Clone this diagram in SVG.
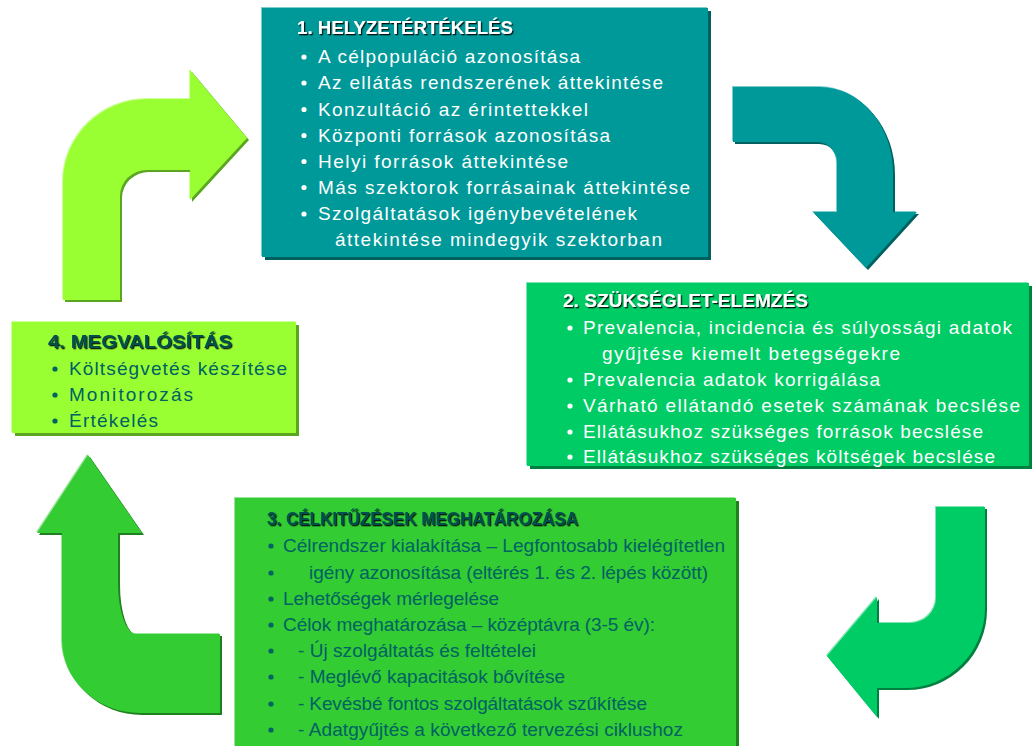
<svg xmlns="http://www.w3.org/2000/svg" xmlns:xlink="http://www.w3.org/1999/xlink" width="1036" height="746" viewBox="0 0 1036 746">
<style>
text{font-family:"Liberation Sans",Arial,sans-serif;font-size:19px}
.t{font-weight:bold;font-size:18px;filter:url(#ts)}
.w{fill:#ffffff}
.d{fill:#006262}
.dt{fill:#00504f}
.bw{fill:#ffffff}
.bd{fill:#006262}
</style>
<defs>
<filter id="ts" x="-5%" y="-30%" width="110%" height="160%">
<feDropShadow dx="1.3" dy="1.3" stdDeviation="0.3" flood-color="#000000" flood-opacity="0.85"/>
</filter>
<path id="a1" d="M63,300 L63,182 A85,83 0 0 1 148,99 L190,99 L190,70 L247,138 L190,200 L190,170 L147,170 A27,26 0 0 0 120,196 L120,300 Z"/>
<path id="a2" d="M733,87 L820,87 A73,86 0 0 1 893,173 L893,212 L917,212 L866,268 L813,212 L837,212 L837,163 A20,21 0 0 0 817,142 L733,142 Z"/>
<path id="a3" d="M936,507 L985,507 L985,608 A80,80 0 0 1 905,688 L877,688 L877,717 L827,656 L877,597 L877,623 L910,623 A26,25 0 0 0 936,598 Z"/>
<path id="a4" d="M62,533 L37,533 L88,455 L142,533 L118,533 L118,583 A18,51 0 0 0 136,634 L220,634 L220,713 L140,713 A78,73 0 0 1 62,640 Z"/>
</defs>
<rect width="1036" height="746" fill="#ffffff"/>

<g id="connectors">
<g id="arrow-4-to-1">
<use xlink:href="#a1" fill="#ccff99" transform="translate(-1,-1)"/>
<use xlink:href="#a1" fill="#5aa621" transform="translate(2,2)"/>
<use xlink:href="#a1" fill="#99ff33"/>
</g>
<g id="arrow-1-to-2">
<use xlink:href="#a2" fill="#7fcccc" transform="translate(-1,-1)"/>
<use xlink:href="#a2" fill="#005f5f" transform="translate(2,2)"/>
<use xlink:href="#a2" fill="#009999"/>
</g>
<g id="arrow-2-to-3">
<use xlink:href="#a3" fill="#7fe5b2" transform="translate(-1,-1)"/>
<use xlink:href="#a3" fill="#00803f" transform="translate(2,2)"/>
<use xlink:href="#a3" fill="#00cc66"/>
</g>
<g id="arrow-3-to-4">
<use xlink:href="#a4" fill="#99e599" transform="translate(-1,-1)"/>
<use xlink:href="#a4" fill="#1f801f" transform="translate(2,2)"/>
<use xlink:href="#a4" fill="#33cc33"/>
</g>
</g>

<g id="node1">
<rect x="261" y="7" width="446" height="249" fill="#7fcccc"/>
<rect x="265" y="11" width="446" height="249" fill="#005f5f"/>
<rect x="262" y="8" width="446" height="249" fill="#009999"/>
<text class="t w" x="297" y="34" textLength="216" lengthAdjust="spacingAndGlyphs">1. HELYZETÉRTÉKELÉS</text>
<g class="bw">
<circle cx="304" cy="57" r="2.6"/><circle cx="304" cy="83" r="2.6"/><circle cx="304" cy="109.5" r="2.6"/><circle cx="304" cy="135.5" r="2.6"/><circle cx="304" cy="161.5" r="2.6"/><circle cx="304" cy="187.5" r="2.6"/><circle cx="304" cy="214" r="2.6"/>
</g>
<text class="w" x="318" y="63" textLength="262">A célpopuláció azonosítása</text>
<text class="w" x="318" y="89" textLength="345">Az ellátás rendszerének áttekintése</text>
<text class="w" x="318" y="115.5" textLength="270">Konzultáció az érintettekkel</text>
<text class="w" x="318" y="141.5" textLength="292">Központi források azonosítása</text>
<text class="w" x="318" y="167.5" textLength="250">Helyi források áttekintése</text>
<text class="w" x="318" y="193.5" textLength="372">Más szektorok forrásainak áttekintése</text>
<text class="w" x="318" y="220" textLength="319">Szolgáltatások igénybevételének</text>
<text class="w" x="335" y="246" textLength="327">áttekintése mindegyik szektorban</text>
</g>

<g id="node2">
<rect x="526" y="282" width="502" height="183" fill="#7fe5b2"/>
<rect x="530" y="286" width="502" height="183" fill="#00803f"/>
<rect x="527" y="283" width="502" height="183" fill="#00cc66"/>
<text class="t w" x="563" y="307" textLength="245" lengthAdjust="spacingAndGlyphs">2. SZÜKSÉGLET-ELEMZÉS</text>
<g class="bw">
<circle cx="570" cy="328" r="2.6"/><circle cx="570" cy="380" r="2.6"/><circle cx="570" cy="406" r="2.6"/><circle cx="570" cy="432" r="2.6"/><circle cx="570" cy="457" r="2.6"/>
</g>
<text class="w" x="583" y="334" textLength="429">Prevalencia, incidencia és súlyossági adatok</text>
<text class="w" x="602" y="360" textLength="298">gyűjtése kiemelt betegségekre</text>
<text class="w" x="583" y="386" textLength="297">Prevalencia adatok korrigálása</text>
<text class="w" x="583" y="412" textLength="437">Várható ellátandó esetek számának becslése</text>
<text class="w" x="583" y="438" textLength="400">Ellátásukhoz szükséges források becslése</text>
<text class="w" x="583" y="463" textLength="412">Ellátásukhoz szükséges költségek becslése</text>
</g>

<g id="node3">
<rect x="234" y="497" width="501" height="250" fill="#99e599"/>
<rect x="238" y="501" width="501" height="250" fill="#1f801f"/>
<rect x="235" y="498" width="501" height="250" fill="#33cc33"/>
<text class="t dt" x="267" y="525" textLength="311" lengthAdjust="spacingAndGlyphs">3. CÉLKITŰZÉSEK MEGHATÁROZÁSA</text>
<g class="bd">
<circle cx="271" cy="546" r="2.6"/><circle cx="271" cy="573" r="2.6"/><circle cx="271" cy="599" r="2.6"/><circle cx="271" cy="625" r="2.6"/><circle cx="271" cy="651" r="2.6"/><circle cx="271" cy="677" r="2.6"/><circle cx="271" cy="704" r="2.6"/><circle cx="271" cy="730" r="2.6"/>
</g>
<text class="d" x="283" y="552" textLength="442">Célrendszer kialakítása – Legfontosabb kielégítetlen</text>
<text class="d" x="309" y="579" textLength="399">igény azonosítása (eltérés 1. és 2. lépés között)</text>
<text class="d" x="283" y="605" textLength="216">Lehetőségek mérlegelése</text>
<text class="d" x="283" y="631" textLength="372">Célok meghatározása – középtávra (3-5 év):</text>
<text class="d" x="298" y="657" textLength="238">- Új szolgáltatás és feltételei</text>
<text class="d" x="298" y="683" textLength="267">- Meglévő kapacitások bővítése</text>
<text class="d" x="298" y="710" textLength="349">- Kevésbé fontos szolgáltatások szűkítése</text>
<text class="d" x="298" y="736" textLength="385">- Adatgyűjtés a következő tervezési ciklushoz</text>
</g>

<g id="node4">
<rect x="11" y="321" width="284" height="111" fill="#ccff99"/>
<rect x="15" y="325" width="284" height="111" fill="#5aa621"/>
<rect x="12" y="322" width="284" height="111" fill="#99ff33"/>
<text class="t dt" x="48" y="348" textLength="184" lengthAdjust="spacingAndGlyphs">4. MEGVALÓSÍTÁS</text>
<g class="bd">
<circle cx="55" cy="369" r="2.6"/><circle cx="55" cy="395" r="2.6"/><circle cx="55" cy="421" r="2.6"/>
</g>
<text class="d" x="69" y="375" textLength="218">Költségvetés készítése</text>
<text class="d" x="69" y="401" textLength="124">Monitorozás</text>
<text class="d" x="69" y="427" textLength="89">Értékelés</text>
</g>
</svg>
